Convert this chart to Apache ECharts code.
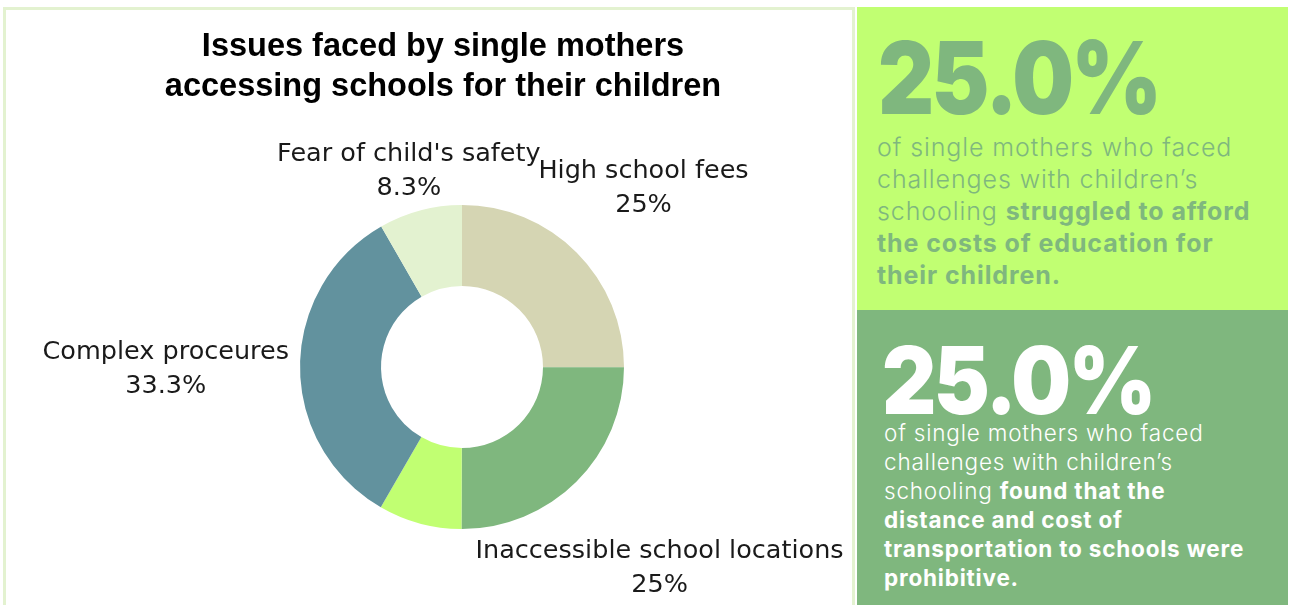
<!DOCTYPE html>
<html>
<head>
<meta charset="utf-8">
<script src="https://cdn.jsdelivr.net/npm/echarts@6/dist/echarts.min.js"></script>
<style>
  html, body { margin: 0; padding: 0; width: 1290px; height: 605px; overflow: hidden; background: #fff; }
  #frame { position: absolute; left: 3px; top: 7px; width: 852px; height: 610px; border: 3px solid #e3f2d0; box-sizing: border-box; }
  #chart { position: absolute; left: 0; top: 0; width: 857px; height: 605px; }
  .panel { position: absolute; left: 857px; width: 431px; box-sizing: border-box; }
  #p1 { top: 7px; height: 303px; background: #c1ff72; color: #7fb77e; }
  #p2 { top: 310px; height: 295px; background: #7fb77e; color: #ffffff; }
  .big { position: absolute; font-family: Inter, "DejaVu Sans", sans-serif; font-weight: 900; white-space: nowrap; transform-origin: 0 0; }
  .body { position: absolute; font-family: Inter, "Open Sans", sans-serif; font-weight: 300; white-space: nowrap; }
  .body b { font-weight: 700; }
</style>
</head>
<body>
<div id="frame"></div>
<div id="chart"></div>
<div class="panel" id="p1">
  <div class="big" id="big1"></div>
  <div class="body" id="txt1"></div>
</div>
<div class="panel" id="p2">
  <div class="big" id="big2"></div>
  <div class="body" id="txt2"></div>
</div>
<script>
// Issue categories, clockwise from 12 o'clock, and their share of respondents (%)
const categories = ['High school fees', 'Inaccessible school locations', 'Other', 'Complex proceures', "Fear of child's safety"];
const shares = [25, 25, 8.3, 33.3, 8.3];
const showLabel = [true, true, false, true, true];
const sliceColors = ['#d5d5b3', '#7fb77e', '#c1ff72', '#62929e', '#e3f2d0'];

const titleText = 'Issues faced by single mothers\naccessing schools for their children';

// Highlight figures for the side panels
const feesShare = 25.0;
const transportShare = 25.0;

// Donut geometry (px, relative to the chart box)
const CX = 462, CY = 367, R_IN = 81, R_OUT = 162;
const LABEL_GAP = 11;      // distance kept between ring and label glyphs
const LINE_PAD = 8;        // vertical line-box padding not counted as glyphs
const BASELINE_SHIFT = 3;  // nudge so glyphs sit optically centred on the anchor

const total = shares.reduce((a, b) => a + b, 0);

// Place each outside label along its slice's mid angle so that the
// nearest edge of the label's text sits just outside the ring.
function placeLabel(params) {
  const i = params.dataIndex;
  let before = 0;
  for (let k = 0; k < i; k++) before += shares[k];
  const midDeg = 90 - 360 * (before + shares[i] / 2) / total;
  const a = midDeg * Math.PI / 180;
  const ux = Math.cos(a), uy = -Math.sin(a);
  const hw = params.labelRect.width / 2;
  const hh = params.labelRect.height / 2 - LINE_PAD;
  const target = R_OUT + LABEL_GAP;
  let lo = 0, hi = 800;
  for (let n = 0; n < 60; n++) {
    const d = (lo + hi) / 2;
    const dx = Math.max(Math.abs(d * ux) - hw, 0);
    const dy = Math.max(Math.abs(d * uy) - hh, 0);
    if (Math.hypot(dx, dy) < target) lo = d; else hi = d;
  }
  return { x: CX + lo * ux, y: CY + lo * uy + BASELINE_SHIFT, align: 'center', verticalAlign: 'middle' };
}

const chart = echarts.init(document.getElementById('chart'), null, { renderer: 'canvas' });
chart.setOption({
  animation: false,
  title: {
    text: titleText,
    left: 438,
    top: 22,
    textAlign: 'center',
    textStyle: {
      fontFamily: '"Liberation Sans", Arial, sans-serif',
      fontWeight: 'bold',
      fontSize: 32.5,
      lineHeight: 40,
      color: '#000'
    }
  },
  series: [{
    type: 'pie',
    center: [CX, CY],
    radius: [R_IN, R_OUT],
    startAngle: 90,
    clockwise: true,
    avoidLabelOverlap: false,
    label: {
      show: true,
      position: 'outside',
      formatter: p => p.name + '\n' + p.value + '%',
      fontFamily: '"DejaVu Sans", sans-serif',
      fontSize: 25.5,
      lineHeight: 34,
      color: '#1a1a1a',
      align: 'center'
    },
    labelLine: { show: false },
    labelLayout: placeLabel,
    itemStyle: { borderWidth: 0 },
    emphasis: { disabled: true },
    data: categories.map((c, i) => ({
      name: c,
      value: shares[i],
      itemStyle: { color: sliceColors[i] },
      label: { show: showLabel[i] }
    }))
  }]
});

// Side panels
function fmt(v) { return v.toFixed(1) + '%'; }
const big1 = document.getElementById('big1');
big1.textContent = fmt(feesShare);
Object.assign(big1.style, { left: '21px', top: '12px', fontSize: '101px', lineHeight: '116px', letterSpacing: '-3px', transform: 'scaleX(0.86)' });
const txt1 = document.getElementById('txt1');
txt1.innerHTML = 'of single mothers who faced<br>challenges with children\u2019s<br>schooling <b>struggled to afford</b><br><b>the costs of education for</b><br><b>their children.</b>';
Object.assign(txt1.style, { left: '20px', top: '124px', fontSize: '25px', lineHeight: '32px', letterSpacing: '0.9px' });

const big2 = document.getElementById('big2');
big2.textContent = fmt(transportShare);
Object.assign(big2.style, { left: '25px', top: '17px', fontSize: '93px', lineHeight: '106px', letterSpacing: '-3px', transform: 'scaleX(0.905)' });
const txt2 = document.getElementById('txt2');
txt2.innerHTML = 'of single mothers who faced<br>challenges with children\u2019s<br>schooling <b>found that the</b><br><b>distance and cost of</b><br><b>transportation to schools were</b><br><b>prohibitive.</b>';
Object.assign(txt2.style, { left: '27px', top: '108px', fontSize: '22.5px', lineHeight: '29px', letterSpacing: '0.8px' });
</script>
</body>
</html>
